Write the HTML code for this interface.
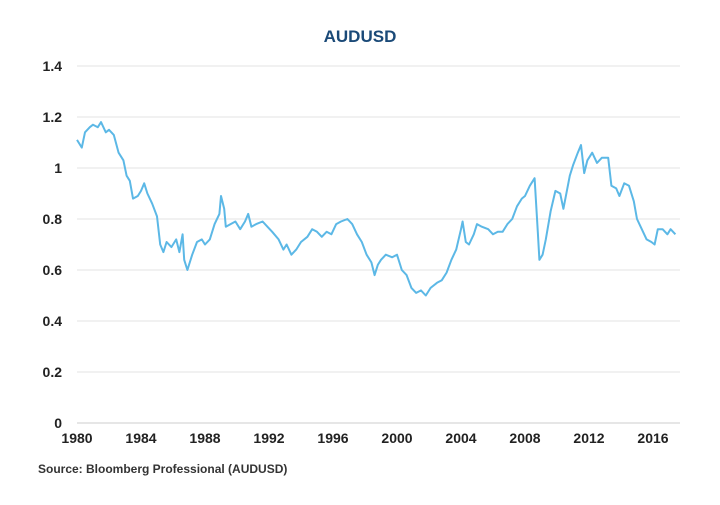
<!DOCTYPE html>
<html><head><meta charset="utf-8"><style>
body{margin:0;background:#fff;width:720px;height:500px;overflow:hidden;font-family:"Liberation Sans",sans-serif}
</style></head><body>
<svg width="720" height="500" id="c">
<text x="360" y="42" text-anchor="middle" font-size="17" font-weight="bold" fill="#1b4a78">AUDUSD</text>
<g id="grid"></g>
<g id="yt"></g>
<g id="xt"></g>
<path id="ln" fill="none" stroke="#5cb8e6" stroke-width="2" stroke-linejoin="round"/>
<text x="38" y="473" font-size="12" font-weight="bold" fill="#333">Source: Bloomberg Professional (AUDUSD)</text>
</svg>
<script>
const yTicks=[0,0.2,0.4,0.6,0.8,1,1.2,1.4];
const yLabels=["0","0.2","0.4","0.6","0.8","1","1.2","1.4"];
const xTicks=[1980,1984,1988,1992,1996,2000,2004,2008,2012,2016];
const years=[1980.0,1980.3,1980.5,1980.8,1981.0,1981.3,1981.5,1981.8,1982.0,1982.3,1982.6,1982.9,1983.1,1983.3,1983.5,1983.8,1984.0,1984.2,1984.4,1984.7,1985.0,1985.2,1985.4,1985.6,1985.9,1986.2,1986.4,1986.6,1986.7,1986.9,1987.2,1987.5,1987.8,1988.0,1988.3,1988.6,1988.9,1989.0,1989.2,1989.3,1989.6,1989.9,1990.2,1990.5,1990.7,1990.9,1991.2,1991.6,1991.9,1992.2,1992.6,1992.9,1993.1,1993.4,1993.7,1994.0,1994.4,1994.7,1995.0,1995.3,1995.6,1995.9,1996.2,1996.5,1996.9,1997.2,1997.5,1997.8,1998.1,1998.4,1998.6,1998.8,1999.0,1999.3,1999.7,2000.0,2000.3,2000.6,2000.9,2001.2,2001.5,2001.8,2002.1,2002.5,2002.8,2003.1,2003.4,2003.7,2004.0,2004.1,2004.3,2004.5,2004.8,2005.0,2005.3,2005.7,2006.0,2006.3,2006.6,2006.9,2007.2,2007.5,2007.8,2008.0,2008.3,2008.6,2008.8,2008.9,2009.1,2009.3,2009.6,2009.9,2010.2,2010.4,2010.8,2011.0,2011.3,2011.5,2011.7,2011.9,2012.2,2012.5,2012.8,2013.2,2013.4,2013.7,2013.9,2014.2,2014.5,2014.8,2015.0,2015.3,2015.6,2015.9,2016.1,2016.3,2016.6,2016.9,2017.1,2017.4];
const rates=[1.11,1.08,1.14,1.16,1.17,1.16,1.18,1.14,1.15,1.13,1.06,1.03,0.97,0.95,0.88,0.89,0.91,0.94,0.90,0.86,0.81,0.70,0.67,0.71,0.69,0.72,0.67,0.74,0.64,0.60,0.66,0.71,0.72,0.70,0.72,0.78,0.82,0.89,0.84,0.77,0.78,0.79,0.76,0.79,0.82,0.77,0.78,0.79,0.77,0.75,0.72,0.68,0.70,0.66,0.68,0.71,0.73,0.76,0.75,0.73,0.75,0.74,0.78,0.79,0.80,0.78,0.74,0.71,0.66,0.63,0.58,0.62,0.64,0.66,0.65,0.66,0.60,0.58,0.53,0.51,0.52,0.50,0.53,0.55,0.56,0.59,0.64,0.68,0.76,0.79,0.71,0.70,0.74,0.78,0.77,0.76,0.74,0.75,0.75,0.78,0.80,0.85,0.88,0.89,0.93,0.96,0.75,0.64,0.66,0.72,0.83,0.91,0.90,0.84,0.97,1.01,1.06,1.09,0.98,1.03,1.06,1.02,1.04,1.04,0.93,0.92,0.89,0.94,0.93,0.87,0.80,0.76,0.72,0.71,0.70,0.76,0.76,0.74,0.76,0.74];
const X=v=>77+(v-1980)*16;
const Y=v=>423-v*255;
const ns="http://www.w3.org/2000/svg";
const g=document.getElementById('grid'),yt=document.getElementById('yt'),xt=document.getElementById('xt');
yTicks.forEach((t,i)=>{
 const l=document.createElementNS(ns,'line');
 l.setAttribute('x1',77);l.setAttribute('x2',680);l.setAttribute('y1',Y(t));l.setAttribute('y2',Y(t));
 l.setAttribute('stroke',t===0?'#ccc':'#e3e3e3');l.setAttribute('stroke-width',1);
 
 
 g.appendChild(l);
 const tx=document.createElementNS(ns,'text');
 tx.setAttribute('x',62);tx.setAttribute('y',Y(t)+5);tx.setAttribute('text-anchor','end');
 tx.setAttribute('font-size','14');tx.setAttribute('font-weight','bold');tx.setAttribute('fill','#222');
 tx.textContent=yLabels[i];
 
 
 yt.appendChild(tx);
});
xTicks.forEach(t=>{
 const tx=document.createElementNS(ns,'text');
 tx.setAttribute('x',X(t));tx.setAttribute('y',443);tx.setAttribute('text-anchor','middle');
 tx.setAttribute('font-size','14');tx.setAttribute('font-weight','bold');tx.setAttribute('fill','#222');
 tx.textContent=t;
 
 
 xt.appendChild(tx);
});
document.getElementById('ln').setAttribute('d',years.map((y,i)=>(i?'L':'M')+X(y).toFixed(1)+' '+Y(rates[i]).toFixed(1)).join(' '));
</script>
</body></html>
